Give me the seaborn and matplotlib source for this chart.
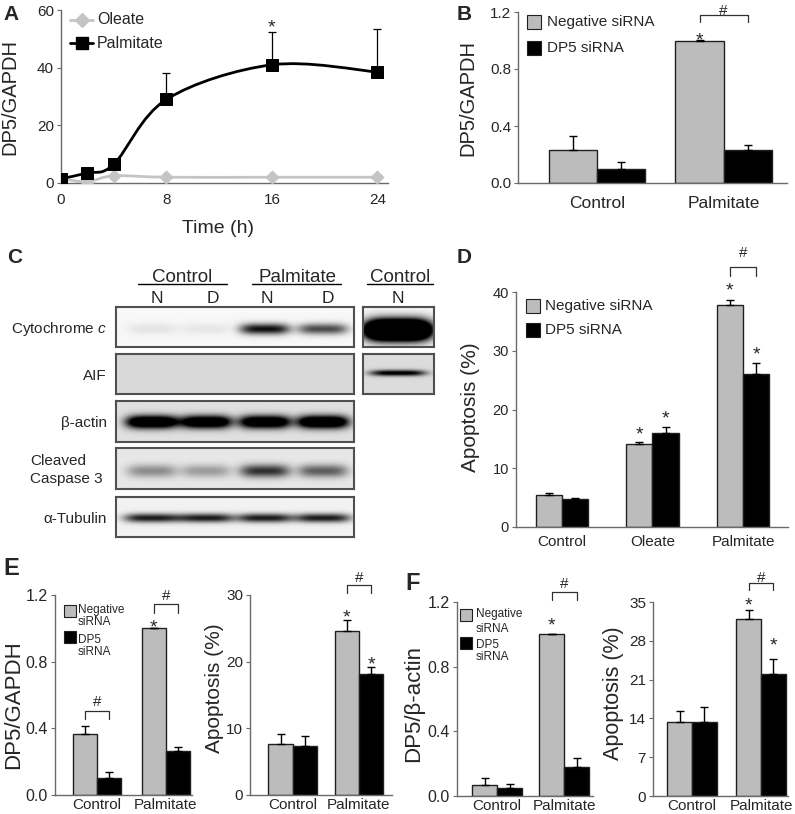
import numpy as np
import pandas as pd
import matplotlib
matplotlib.use('Agg')
import matplotlib.pyplot as plt
from matplotlib.path import Path
from matplotlib.patches import PathPatch, Rectangle
from matplotlib.lines import Line2D
import seaborn as sns

sns.set_style('white')
plt.rcParams['font.family'] = ['Liberation Sans', 'DejaVu Sans']
plt.rcParams['mathtext.fontset'] = 'custom'
plt.rcParams['mathtext.it'] = 'Liberation Sans:italic'

W, H = 795, 814
GRAY = '#bcbcbc'
EDGE = '#202020'
SPINE = '#6a6a6a'

# ---- panel A: time course
time_h = [0, 2, 4, 8, 16, 24]
oleate = [1.5, 0.5, 2.5, 2.0, 2.0, 2.0]
palmitate = [1.5, 3.5, 6.5, 29.0, 41.0, 38.5]
palmitate_err = [0.3, 0.5, 0.8, 9.0, 11.5, 15.0]

groups = ['Negative siRNA', 'DP5 siRNA']

# ---- panel B
b_cats = ['Control', 'Palmitate']
b_neg, b_neg_err = [0.235, 1.0], [0.095, 0.005]
b_dp5, b_dp5_err = [0.10, 0.23], [0.045, 0.035]

# ---- panel D
d_cats = ['Control', 'Oleate', 'Palmitate']
d_neg, d_neg_err = [5.4, 14.1, 37.8], [0.4, 0.4, 0.9]
d_dp5, d_dp5_err = [4.8, 16.0, 26.0], [0.2, 1.0, 2.0]

# ---- panel E
e_cats = ['Control', 'Palmitate']
e1_neg, e1_neg_err = [0.365, 1.0], [0.05, 0.004]
e1_dp5, e1_dp5_err = [0.105, 0.265], [0.035, 0.025]
e2_neg, e2_neg_err = [7.6, 24.6], [1.5, 1.6]
e2_dp5, e2_dp5_err = [7.3, 18.1], [1.5, 1.1]

# ---- panel F
f1_neg, f1_neg_err = [0.065, 1.0], [0.045, 0.004]
f1_dp5, f1_dp5_err = [0.05, 0.18], [0.025, 0.055]
f2_neg, f2_neg_err = [13.3, 31.9], [2.0, 1.7]
f2_dp5, f2_dp5_err = [13.3, 22.1], [2.7, 2.6]

# ---- panel C: blot band darkness per lane (N, D, N, D)
lanes = ['N', 'D', 'N', 'D']
cyto_c = [0.08, 0.07, 0.95, 0.7]
aif = [0.0, 0.0, 0.0, 0.0]
actin = [1.6, 1.5, 1.5, 1.6]
casp3 = [0.4, 0.33, 0.8, 0.6]
tubulin = [0.9, 0.9, 0.9, 0.9]
ctrl_cyto = 3.0
ctrl_aif = 1.1


fig = plt.figure(figsize=(W / 100, H / 100), dpi=100)


def add_ax(x0, y0, x1, y1):
    return fig.add_axes([x0 / W, 1 - y1 / H, (x1 - x0) / W, (y1 - y0) / H])


def ftext(x, y, s, **kw):
    fig.text(x / W, 1 - y / H, s, **kw)


def fline(xs, ys, **kw):
    fig.add_artist(Line2D([x / W for x in xs], [1 - y / H for y in ys], **kw))


def fpatch(x, y, s, color):
    fig.add_artist(Rectangle((x / W, 1 - (y + s / 2) / H), s / W, s / H,
                             transform=fig.transFigure, fc=color, ec=EDGE, lw=0.8))


def style(ax, xlim, ylim, yticks, ylabels, fs_tick, fs_cat, cat_pad):
    ax.set_xlim(*xlim)
    ax.set_ylim(*ylim)
    ax.set_yticks(yticks)
    ax.set_yticklabels(ylabels, fontsize=fs_tick)
    ax.set_xlabel('')
    ax.set_ylabel('')
    for s in ['top', 'right']:
        ax.spines[s].set_visible(False)
    for s in ['left', 'bottom']:
        ax.spines[s].set_color(SPINE)
        ax.spines[s].set_linewidth(1.0)
    ax.tick_params(axis='y', length=3, color=SPINE, pad=2, left=True)
    ax.tick_params(axis='x', length=0, labelsize=fs_cat, pad=cat_pad)


def bar_panel(ax, cats, neg, neg_err, dp5, dp5_err, width):
    df = pd.DataFrame({'cat': cats * 2,
                       'grp': [groups[0]] * len(cats) + [groups[1]] * len(cats),
                       'val': neg + dp5})
    sns.barplot(data=df, x='cat', y='val', hue='grp', hue_order=groups,
                palette=[GRAY, 'black'], width=width, edgecolor=EDGE, linewidth=1,
                errorbar=None, legend=False, ax=ax)
    centers = []
    for cont, err in zip(ax.containers, [neg_err, dp5_err]):
        xs = [p.get_x() + p.get_width() / 2 for p in cont.patches]
        ys = [p.get_height() for p in cont.patches]
        ax.errorbar(xs, ys, yerr=[np.zeros(len(err)), err], fmt='none', ecolor='black',
                    elinewidth=1, capsize=3, capthick=1, zorder=3)
        centers.append(xs)
    return centers


def star(ax, x, y, fs=14):
    ax.annotate('*', xy=(x, y), xytext=(0, -0.55 * fs), textcoords='offset points',
                ha='center', va='baseline', fontsize=fs, annotation_clip=False)


def bracket(ax, x1, x2, ytop, yend, yhash, fs=11):
    ax.plot([x1, x1, x2, x2], [yend, ytop, ytop, yend], color='#303030', lw=0.9, clip_on=False)
    ax.annotate('#', xy=((x1 + x2) / 2, yhash), xytext=(0, -0.36 * fs), textcoords='offset points',
                ha='center', va='baseline', fontsize=fs, annotation_clip=False)


def smooth_path(x, y):
    pts = np.column_stack([x, y]).astype(float)
    n = len(pts)
    verts, codes = [pts[0]], [Path.MOVETO]
    for i in range(n - 1):
        p0 = pts[i - 1] if i > 0 else pts[i]
        p1, p2 = pts[i], pts[i + 1]
        p3 = pts[i + 2] if i + 2 < n else pts[i + 1]
        verts += [p1 + (p2 - p0) / 6, p2 - (p3 - p1) / 6, p2]
        codes += [Path.CURVE4] * 3
    return Path(verts, codes)


# ================= A
ax = add_ax(61, 10, 388, 183)
ax.add_patch(PathPatch(smooth_path(time_h, oleate), fill=False, ec='#c4c4c4', lw=2, zorder=2))
ax.add_patch(PathPatch(smooth_path(time_h, palmitate), fill=False, ec='black', lw=2, zorder=2))
ax.errorbar(time_h, palmitate, yerr=[np.zeros(6), palmitate_err], fmt='none', ecolor='black',
            elinewidth=0.9, capsize=3, capthick=0.9, zorder=3)
sns.scatterplot(x=time_h, y=oleate, marker='D', color='#c4c4c4', s=45, edgecolor='#c4c4c4', zorder=4, ax=ax)
sns.scatterplot(x=time_h, y=palmitate, marker='s', color='black', s=80, edgecolor='black', zorder=4, ax=ax)
style(ax, (0, 24.8), (0, 60), [0, 20, 40, 60], ['0', '20', '40', '60'], 11, 11, 5)
ax.set_xticks([0, 8, 16, 24])
ax.tick_params(axis='x', length=3, color=SPINE, pad=4)
star(ax, 16, 56)
fline([70, 93], [20, 20], color='#c4c4c4', lw=2)
fline([81.5], [20], color='#c4c4c4', marker='D', ms=7, lw=0)
ftext(97, 20, 'Oleate', fontsize=11.5, va='center')
fline([70, 93], [43, 43], color='black', lw=2)
fline([81.5], [43], color='black', marker='s', ms=9, lw=0)
ftext(97, 43, 'Palmitate', fontsize=11.5, va='center')
ftext(10, 97, 'DP5/GAPDH', rotation=90, fontsize=14.5, ha='center', va='center')
ftext(218, 233, 'Time (h)', fontsize=14, ha='center', va='baseline')
ftext(3, 20, 'A', fontsize=15, fontweight='bold', va='baseline')

# ================= B
ax = add_ax(518, 12, 787, 183)
c = bar_panel(ax, b_cats, b_neg, b_neg_err, b_dp5, b_dp5_err, 0.76)
style(ax, (-0.622, 1.50), (0, 1.2), [0, 0.4, 0.8, 1.2], ['0.0', '0.4', '0.8', '1.2'], 11, 12.5, 9)
star(ax, c[0][1], 1.04)
bracket(ax, c[0][1], c[1][1], 1.18, 1.13, 1.22)
fpatch(527, 22, 14, GRAY)
ftext(547, 22, 'Negative siRNA', fontsize=11, va='center')
fpatch(527, 48, 14, 'black')
ftext(547, 48, 'DP5 siRNA', fontsize=11, va='center')
ftext(468, 98, 'DP5/GAPDH', rotation=90, fontsize=14.5, ha='center', va='center')
ftext(457, 20, 'B', fontsize=15, fontweight='bold', va='baseline')

# ================= C (western blot)
lane_x = [152, 206, 265, 323]


def blot(x0, y0, x1, y1, centers, dark, yc, h, w, bg, power=4):
    bax = add_ax(x0, y0, x1, y1)
    xs = np.linspace(x0, x1, int((x1 - x0) * 3))
    ys = np.linspace(y0, y1, int((y1 - y0) * 3))
    X, Y = np.meshgrid(xs, ys)
    d = np.zeros_like(X)
    for xc, a in zip(centers, dark):
        d += a * np.exp(-np.abs((X - xc) / w) ** power) * np.exp(-((Y - yc) / h) ** 2)
    img = bg * (1 - np.clip(d, 0, 1))
    bax.imshow(img, cmap='gray', vmin=0, vmax=1, extent=[x0, x1, y1, y0],
               aspect='auto', interpolation='bilinear')
    bax.set_xticks([])
    bax.set_yticks([])
    for s in bax.spines.values():
        s.set_visible(True)
        s.set_color('#505050')
        s.set_linewidth(1.5)
    return bax


blot(116, 307, 354, 347, lane_x, cyto_c, 329, 5.5, 25, 0.97)
blot(116, 354, 354, 394, lane_x, aif, 374, 5, 25, 0.85)
blot(116, 401, 354, 442, lane_x, actin, 422, 6.5, 26, 0.88)
blot(116, 448, 354, 489, lane_x, casp3, 471, 6.5, 25, 0.91)
blot(116, 497, 354, 537, lane_x, tubulin, 518, 4.5, 28, 0.95)
blot(363, 307, 434, 347, [398], [ctrl_cyto], 330, 10, 33, 0.97)
blot(363, 354, 434, 394, [398], [ctrl_aif], 373, 3, 28, 0.86)

ftext(182, 282, 'Control', fontsize=13.5, ha='center', va='baseline')
ftext(297, 282, 'Palmitate', fontsize=13.5, ha='center', va='baseline')
ftext(400, 282, 'Control', fontsize=13.5, ha='center', va='baseline')
fline([138, 227], [284, 284], color='black', lw=1)
fline([252, 341], [284, 284], color='black', lw=1)
fline([367, 433], [284, 284], color='black', lw=1)
for lx, lab in zip([157, 213, 267, 328], lanes):
    ftext(lx, 303, lab, fontsize=12.5, ha='center', va='baseline')
ftext(398, 303, 'N', fontsize=12.5, ha='center', va='baseline')
ftext(107, 333, r'Cytochrome $\mathit{c}$', fontsize=11, ha='right', va='baseline')
ftext(107, 380, 'AIF', fontsize=11, ha='right', va='baseline')
ftext(107, 427, 'β-actin', fontsize=11, ha='right', va='baseline')
ftext(30, 465, 'Cleaved', fontsize=11, ha='left', va='baseline')
ftext(30, 483, 'Caspase 3', fontsize=11, ha='left', va='baseline')
ftext(107, 523, 'α-Tubulin', fontsize=11, ha='right', va='baseline')
ftext(7, 263, 'C', fontsize=15, fontweight='bold', va='baseline')

# ================= D
ax = add_ax(516, 292, 788, 527)
c = bar_panel(ax, d_cats, d_neg, d_neg_err, d_dp5, d_dp5_err, 0.585)
style(ax, (-0.508, 2.497), (0, 40), [0, 10, 20, 30, 40], ['0', '10', '20', '30', '40'], 10.5, 11, 6)
star(ax, c[0][1], 16.8)
star(ax, c[1][1], 19.4)
star(ax, c[0][2], 41.2)
star(ax, c[1][2], 30.3)
bracket(ax, c[0][2], c[1][2], 44.2, 42.7, 46.9)
fpatch(526, 306, 14, GRAY)
ftext(545, 306, 'Negative siRNA', fontsize=11, va='center')
fpatch(526, 330, 14, 'black')
ftext(545, 330, 'DP5 siRNA', fontsize=11, va='center')
ftext(471, 407, 'Apoptosis (%)', rotation=90, fontsize=15, ha='center', va='center')
ftext(457, 263, 'D', fontsize=15, fontweight='bold', va='baseline')

# ================= E
ax = add_ax(55, 595, 192, 795)
c = bar_panel(ax, e_cats, e1_neg, e1_neg_err, e1_dp5, e1_dp5_err, 0.70)
style(ax, (-0.61, 1.38), (0, 1.2), [0, 0.4, 0.8, 1.2], ['0.0', '0.4', '0.8', '1.2'], 11.5, 11, 2)
bracket(ax, c[0][0], c[1][0], 0.504, 0.456, 0.57)
bracket(ax, c[0][1], c[1][1], 1.146, 1.09, 1.20)
star(ax, c[0][1], 1.04)
fpatch(64, 611, 12, GRAY)
fpatch(64, 637, 12, 'black')
for ty, tl in zip([610, 622, 640, 652], ['Negative', 'siRNA', 'DP5', 'siRNA']):
    ftext(78, ty, tl, fontsize=8.5, va='center')
ftext(14, 705, 'DP5/GAPDH', rotation=90, fontsize=16, ha='center', va='center')

ax = add_ax(250, 595, 392, 795)
c = bar_panel(ax, e_cats, e2_neg, e2_neg_err, e2_dp5, e2_dp5_err, 0.74)
style(ax, (-0.65, 1.5), (0, 30), [0, 10, 20, 30], ['0', '10', '20', '30'], 11, 11, 2)
star(ax, c[0][1], 27.5)
star(ax, c[1][1], 20.5)
bracket(ax, c[0][1], c[1][1], 31.5, 30.3, 32.8)
ftext(215, 688, 'Apoptosis (%)', rotation=90, fontsize=15, ha='center', va='center')
ftext(3, 575, 'E', fontsize=17, fontweight='bold', va='baseline')

# ================= F
ax = add_ax(457, 602, 593, 796)
c = bar_panel(ax, e_cats, f1_neg, f1_neg_err, f1_dp5, f1_dp5_err, 0.74)
style(ax, (-0.6, 1.43), (0, 1.2), [0, 0.4, 0.8, 1.2], ['0.0', '0.4', '0.8', '1.2'], 11.5, 11, 2)
star(ax, c[0][1], 1.09)
bracket(ax, c[0][1], c[1][1], 1.26, 1.21, 1.32)
fpatch(460, 615, 12, GRAY)
fpatch(460, 643, 12, 'black')
for ty, tl in zip([614, 629, 645, 657], ['Negative', 'siRNA', 'DP5', 'siRNA']):
    ftext(476, ty, tl, fontsize=8.5, va='center')
ftext(414, 703, 'DP5/β-actin', rotation=90, fontsize=16, ha='center', va='center')

ax = add_ax(653, 602, 788, 796)
c = bar_panel(ax, e_cats, f2_neg, f2_neg_err, f2_dp5, f2_dp5_err, 0.72)
style(ax, (-0.565, 1.39), (0, 35), [0, 7, 14, 21, 28, 35], ['0', '7', '14', '21', '28', '35'], 11, 11, 2)
star(ax, c[0][1], 35.4)
star(ax, c[1][1], 28.2)
bracket(ax, c[0][1], c[1][1], 38.4, 37.2, 39.6)
ftext(613, 693, 'Apoptosis (%)', rotation=90, fontsize=15.5, ha='center', va='center')
ftext(405, 590, 'F', fontsize=17, fontweight='bold', va='baseline')

fig.savefig('out.png', dpi=100)
